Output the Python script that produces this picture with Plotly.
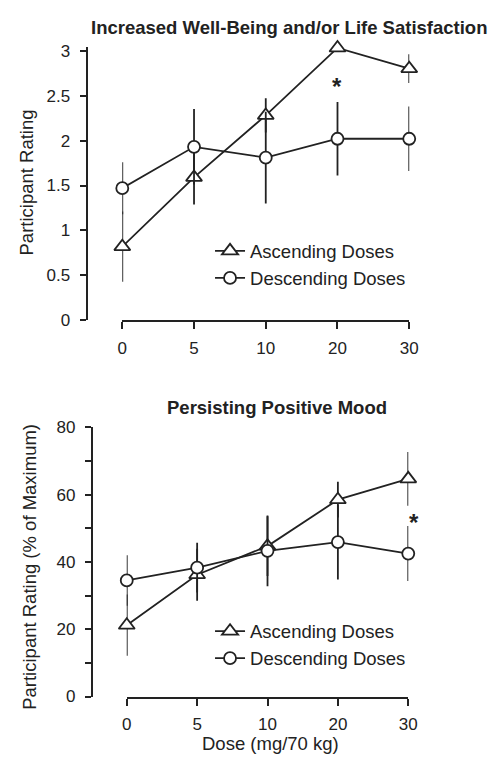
import plotly.graph_objects as go

doses = ["0", "5", "10", "20", "30"]
idx = [0, 1, 2, 3, 4]

# Top panel: Increased Well-Being and/or Life Satisfaction
top_asc = [0.82, 1.59, 2.28, 3.03, 2.80]
top_asc_err = [0.39, 0.30, 0.19, 0.04, 0.16]
top_desc = [1.47, 1.93, 1.81, 2.02, 2.02]
top_desc_err = [0.29, 0.42, 0.51, 0.41, 0.36]

# Bottom panel: Persisting Positive Mood
bot_asc = [21.2, 36.2, 44.7, 58.5, 64.7]
bot_asc_err = [9.1, 7.7, 8.9, 5.3, 8.0]
bot_desc = [34.5, 38.3, 43.3, 45.9, 42.5]
bot_desc_err = [7.5, 7.4, 10.5, 11.1, 8.2]

top_yticks = [0, 0.5, 1, 1.5, 2, 2.5, 3]
top_yticklabels = ["0", "0.5", "1", "1.5", "2", "2.5", "3"]
bot_yticks = [0, 10, 20, 30, 40, 50, 60, 70, 80]
bot_yticklabels = ["0", "", "20", "", "40", "", "60", "", "80"]

INK = "#222222"
FONT = "Liberation Sans, Arial, sans-serif"
FS = 18.5
TFS = 17

fig = go.Figure()


def add_series(y, err, name, symbol, size, xa, ya, legend):
    fig.add_trace(go.Scatter(
        x=idx, y=y, mode="lines+markers", name=name,
        xaxis=xa, yaxis=ya, legend=legend, showlegend=True,
        line=dict(color=INK, width=1.8),
        marker=dict(symbol=symbol, size=size, color="white",
                    line=dict(color=INK, width=1.8)),
        error_y=dict(type="data", array=err, visible=True,
                     color=INK, thickness=1.8, width=0),
        cliponaxis=False,
    ))


add_series(top_asc, top_asc_err, "Ascending Doses", "triangle-up", 14, "x", "y", "legend")
add_series(top_desc, top_desc_err, "Descending Doses", "circle", 12, "x", "y", "legend")
add_series(bot_asc, bot_asc_err, "Ascending Doses", "triangle-up", 14, "x2", "y2", "legend2")
add_series(bot_desc, bot_desc_err, "Descending Doses", "circle", 12, "x2", "y2", "legend2")

W, H = 495, 766


def px_x(p):
    return p / W


def px_y(p):
    return 1 - p / H


axis_common = dict(showline=True, linecolor=INK, linewidth=2, ticks="outside",
                   tickcolor=INK, tickwidth=1.8, showgrid=False, zeroline=False,
                   tickfont=dict(family=FONT, size=TFS, color=INK))

# top panel: value 3 at px 42.7, 0 at px 319.3; range extended a little above 3
top_px_per = (319.3 - 42.7) / 3.0
top_ymax = 3.04

fig.update_layout(
    width=W, height=H,
    margin=dict(l=0, r=0, t=0, b=0),
    paper_bgcolor="white", plot_bgcolor="white",
    font=dict(family=FONT, size=FS, color=INK),
    xaxis=dict(domain=[px_x(120.7), px_x(416)], range=[0, 4], anchor="y",
               tickvals=idx, ticktext=doses, ticklen=7, ticklabelstandoff=4, **axis_common),
    yaxis=dict(domain=[px_y(319.3), px_y(319.3 - top_px_per * top_ymax)], range=[0, top_ymax],
               anchor="free", position=px_x(84), tickvals=top_yticks, ticktext=top_yticklabels,
               ticklen=6, ticklabelstandoff=6, **axis_common),
    xaxis2=dict(domain=[px_x(125.3), px_x(415)], range=[0, 4], anchor="y2",
                tickvals=idx, ticktext=doses, ticklen=7, ticklabelstandoff=4, **axis_common),
    yaxis2=dict(domain=[px_y(705), px_y(429)], range=[0, 80], anchor="free",
                position=px_x(89.3), tickvals=bot_yticks, ticktext=bot_yticklabels,
                ticklen=6, ticklabelstandoff=6, **axis_common),
    legend=dict(x=px_x(211), y=px_y(229), xanchor="left", yanchor="top",
                bgcolor="rgba(0,0,0,0)", font=dict(family=FONT, size=FS, color=INK),
                tracegroupgap=0, itemsizing="trace"),
    legend2=dict(x=px_x(211), y=px_y(619), xanchor="left", yanchor="top",
                 bgcolor="rgba(0,0,0,0)", font=dict(family=FONT, size=FS, color=INK),
                 tracegroupgap=0, itemsizing="trace"),
)

ann = [
    dict(text="<b>Increased Well-Being and/or Life Satisfaction</b>", x=px_x(292.5), y=px_y(19),
         xref="paper", yref="paper", showarrow=False, xanchor="center", yanchor="middle",
         font=dict(family=FONT, size=FS, color=INK)),
    dict(text="<b>Persisting Positive Mood</b>", x=px_x(279.5), y=px_y(409),
         xref="paper", yref="paper", showarrow=False, xanchor="center", yanchor="middle",
         font=dict(family=FONT, size=FS, color=INK)),
    dict(text="Participant Rating", x=px_x(22), y=px_y(177.5), textangle=-90,
         xref="paper", yref="paper", showarrow=False, xanchor="center", yanchor="middle",
         font=dict(family=FONT, size=FS, color=INK)),
    dict(text="Participant Rating (% of Maximum)", x=px_x(25), y=px_y(571.7), textangle=-90,
         xref="paper", yref="paper", showarrow=False, xanchor="center", yanchor="middle",
         font=dict(family=FONT, size=FS, color=INK)),
    dict(text="Dose (mg/70 kg)", x=px_x(273), y=px_y(753),
         xref="paper", yref="paper", showarrow=False, xanchor="center", yanchor="middle",
         font=dict(family=FONT, size=FS, color=INK)),
    dict(text="<b>*</b>", x=3, y=2.64, xref="x", yref="y", showarrow=False,
         xanchor="center", yanchor="middle", yshift=-3,
         font=dict(family=FONT, size=24, color=INK)),
    dict(text="<b>*</b>", x=4, y=52.5, xref="x2", yref="y2", showarrow=False,
         xanchor="center", yanchor="middle", xshift=6, yshift=-3,
         font=dict(family=FONT, size=24, color=INK)),
]
fig.update_layout(annotations=ann)

fig.write_html("out.html", config={"displayModeBar": False},
               post_script="document.body.style.margin='0';document.body.style.overflow='hidden';")
